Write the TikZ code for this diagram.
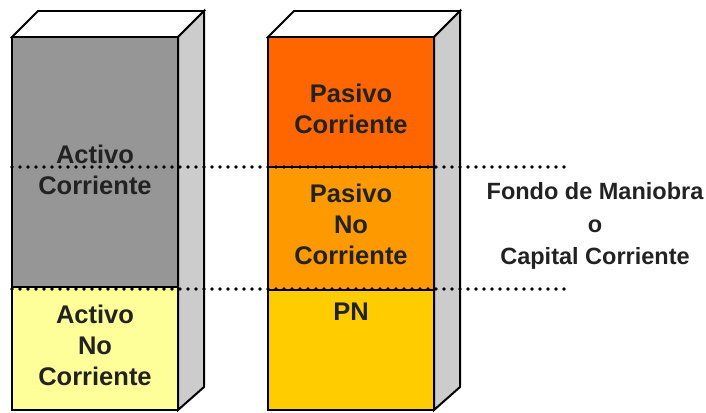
\documentclass[tikz,border=0pt]{standalone}
\usepackage{fontspec}
\setmainfont{Liberation Sans}
\definecolor{activogray}{HTML}{969696}
\definecolor{sidegray}{HTML}{CCCCCC}
\definecolor{activoyellow}{HTML}{FFFF99}
\definecolor{pasivoorange}{HTML}{FF6600}
\definecolor{pasivolight}{HTML}{FF9900}
\definecolor{pngold}{HTML}{FFCC00}
\definecolor{txtgray}{HTML}{222222}
\begin{document}
\begin{tikzpicture}[x=1pt, y=-1pt, line join=miter,
		face/.style={draw=black, line width=2.8pt},
		cut/.style={draw=black, line width=1.6pt},
		dotline/.style={line width=3.8pt, line cap=round, dash pattern=on 0pt off 8pt},
		lbl/.style={font=\fontsize{25.5}{31}\selectfont\bfseries, text=txtgray, align=center},
		side/.style={font=\fontsize{23.5}{32.5}\selectfont\bfseries, text=txtgray, align=center}]
			\useasboundingbox (0,0) rectangle (706,412);
			% top and side faces of both blocks
			\foreach \x in {12,268} {
				\draw[line width=1.8pt, fill=white] (\x,37) -- (\x+26,11) -- (\x+192,11) -- (\x+166,37) -- cycle;
				\draw[line width=2pt, fill=sidegray] (\x+166,37) -- (\x+192,11) -- (\x+192,387) -- (\x+166,410) -- cycle;
			}
			% activo
			\draw[face, fill=activogray] (12,37) rectangle (178,287);
			\draw[face, fill=activoyellow] (12,287) rectangle (178,410);
			% pasivo
			\draw[face, fill=pasivoorange] (268,37) rectangle (434,167);
			\draw[face, fill=pasivolight] (268,167) rectangle (434,290);
			\draw[face, fill=pngold] (268,290) rectangle (434,410);
			\draw[cut] (268,167) -- (434,167);
			\draw[cut] (268,290) -- (434,290);
			% labels
			\node[lbl] (ac) at (95,170) {Activo\\Corriente};
			\node[lbl] (anc) at (95,345) {Activo\\No\\Corriente};
			\node[lbl] (pc) at (351,109) {Pasivo\\Corriente};
			\node[lbl] (pnc) at (351,224) {Pasivo\\No\\Corriente};
			\node[lbl] (pn) at (351,312) {PN};
			\node[side] (fm) at (595,226) {Fondo de Maniobra\\o\\Capital Corriente};
			% dotted lines
			\coordinate (a1) at (12,167);
			\coordinate (b1) at (568,167);
			\coordinate (a2) at (12,289);
			\coordinate (b2) at (568,289);
			\draw[dotline] (a1) -- (b1);
			\draw[dotline] (a2) -- (b2);
		\end{tikzpicture}
\end{document}
